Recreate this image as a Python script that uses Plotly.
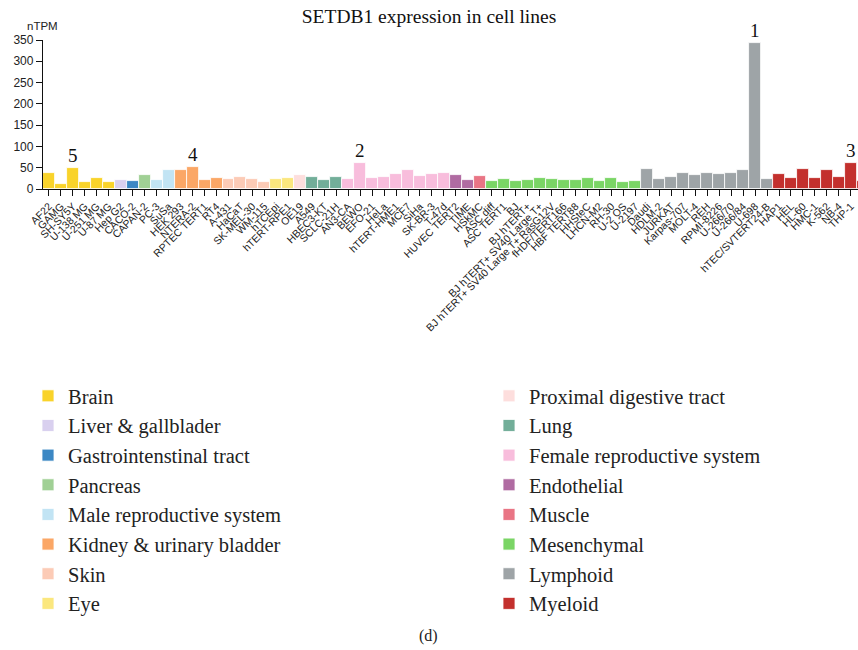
import plotly.graph_objects as go

# ---- data ----
cell_lines = [
    "AF22", "GAMG", "SH-SY5Y", "U-138 MG", "U-251 MG", "U-87 MG",
    "Hep G2",
    "CACO-2",
    "CAPAN-2",
    "PC-3", "SuSa",
    "HEK 293", "NTERA-2", "RPTEC TERT1", "RT4",
    "A-431", "HaCaT", "SK-MEL-30", "WM-115",
    "hTCEpi", "hTERT-RPE1",
    "OE19",
    "A549", "HBEC3-KT", "SCLC-21H",
    "AN3-CA", "BEWO", "EFO-21", "HeLa", "hTERT-HME1", "MCF7", "SiHa", "SK-BR-3", "T-47d",
    "HUVEC TERT2", "TIME",
    "HSkMC",
    "ASC diff", "ASC TERT1", "BJ", "BJ hTERT+", "BJ hTERT+ SV40 Large T+",
    "BJ hTERT+ SV40 Large T+ RasG12V", "fHDF/TERT166", "HBF TERT88", "HHSteC",
    "LHCN-M2", "RH-30", "U-2 OS", "U-2197",
    "Daudi", "HDLM-2", "JURKAT", "Karpas-707", "MOLT-4", "REH", "RPMI-8226",
    "U-266/70", "U-266/84", "U-698", "hTEC/SVTERT24-B",
    "HAP1", "HEL", "HL-60", "HMC-1", "K-562", "NB-4", "THP-1", "U-937",
]

ntpm = [
    38, 11, 50, 16, 27, 16,
    21,
    19,
    32,
    21, 45,
    44, 52, 21, 27,
    24, 28, 24, 17,
    23, 27,
    33,
    28, 21, 28,
    24, 62, 25, 28, 36, 45, 30, 35, 37,
    32, 22,
    31,
    18, 24, 19, 22, 27,
    23, 21, 21, 25,
    19, 25, 16, 18,
    46, 23, 29, 37, 32, 38, 35,
    38, 44, 343, 23,
    36, 27, 46, 25, 44, 28, 62, 18,
]

group_sizes = [6, 1, 1, 1, 2, 4, 4, 2, 1, 3, 9, 2, 1, 13, 11, 8]

groups = [
    "Brain", "Liver & gallblader", "Gastrointenstinal tract", "Pancreas",
    "Male reproductive system", "Kidney & urinary bladder", "Skin", "Eye",
    "Proximal digestive tract", "Lung", "Female reproductive system",
    "Endothelial", "Muscle", "Mesenchymal", "Lymphoid", "Myeloid",
]

group_colors = [
    "#F9D32A", "#D9D0EF", "#3C88C4", "#A0D095",
    "#C2E4F4", "#FBA766", "#FCCBB6", "#FBE77E",
    "#FDDEDD", "#72AE99", "#F8BDDC", "#B06BA2",
    "#E97585", "#7AD565", "#9EA4A7", "#C3302D",
]

highlights = {"U-698": "1", "BEWO": "2", "THP-1": "3", "NTERA-2": "4", "SH-SY5Y": "5"}

# ---- figure ----
W, H = 858, 650
ML, MT, MB = 43, 40, 461
PW = W - ML
PH = H - MT - MB

fig = go.Figure()
start = 0
for gi, (g, n) in enumerate(zip(groups, group_sizes)):
    xs = cell_lines[start:start + n]
    ys = ntpm[start:start + n]
    start += n
    fig.add_trace(go.Bar(
        x=xs, y=ys, name=g,
        marker=dict(color=group_colors[gi], line=dict(color="white", width=0.8)),
        legendgroup=g,
        legend="legend" if gi < 8 else "legend2",
        showlegend=True,
    ))

SERIF = "Liberation Serif, Times New Roman, serif"
SANS = "Liberation Sans, Arial, Helvetica, sans-serif"

annotations = []
for name, lab in highlights.items():
    idx = cell_lines.index(name)
    annotations.append(dict(
        x=name, y=ntpm[idx], xref="x", yref="y", text=lab, showarrow=False,
        yanchor="bottom", font=dict(family=SERIF, size=19, color="#111"),
    ))
annotations.append(dict(
    x=(42 - ML) / PW, y=(MT + PH - 26) / PH, xref="paper", yref="paper",
    text="nTPM", showarrow=False, xanchor="center", yanchor="middle",
    font=dict(family=SANS, size=11.5, color="#222"),
))
annotations.append(dict(
    x=(428 - ML) / PW, y=(MT + PH - 636) / PH, xref="paper", yref="paper",
    text="(d)", showarrow=False, xanchor="center", yanchor="middle",
    font=dict(family=SERIF, size=16, color="#222"),
))

legend_common = dict(
    xref="container", yref="container", orientation="v",
    font=dict(family=SERIF, size=20.5, color="#222"),
    bgcolor="rgba(0,0,0,0)", borderwidth=0, tracegroupgap=0,
    yanchor="top", xanchor="left",
)

fig.update_layout(
    width=W, height=H,
    margin=dict(l=ML, r=0, t=MT, b=MB, pad=0, autoexpand=False),
    paper_bgcolor="white", plot_bgcolor="white",
    barmode="overlay", bargap=0,
    title=dict(text="SETDB1 expression in cell lines", x=0.5, xref="container",
               y=1 - 16 / H, yref="container", xanchor="center", yanchor="middle",
               font=dict(family=SERIF, size=19.5, color="#111")),
    xaxis=dict(
        type="category", categoryorder="array", categoryarray=cell_lines,
        tickmode="array", tickvals=cell_lines, ticktext=cell_lines,
        range=[-0.5, 67.6], tickangle=-45, showline=True, linecolor="#111",
        linewidth=1.3, ticks="outside", ticklen=6, tickwidth=1.2, tickcolor="#111",
        tickfont=dict(family=SANS, size=10.5, color="#222"), showgrid=False,
        zeroline=False, automargin=False,
    ),
    yaxis=dict(
        range=[0, 350], tickvals=[0, 50, 100, 150, 200, 250, 300, 350],
        showline=True, linecolor="#111", linewidth=1.3, ticks="outside",
        ticklen=6, tickwidth=1.2, tickcolor="#111",
        tickfont=dict(family=SANS, size=12, color="#222"), showgrid=False,
        zeroline=False, automargin=False,
    ),
    legend=dict(x=28 / W, y=1 - 376 / H, **legend_common),
    legend2=dict(x=489 / W, y=1 - 376 / H, **legend_common),
    annotations=annotations,
    showlegend=True,
)

fig.write_html("out.html")
